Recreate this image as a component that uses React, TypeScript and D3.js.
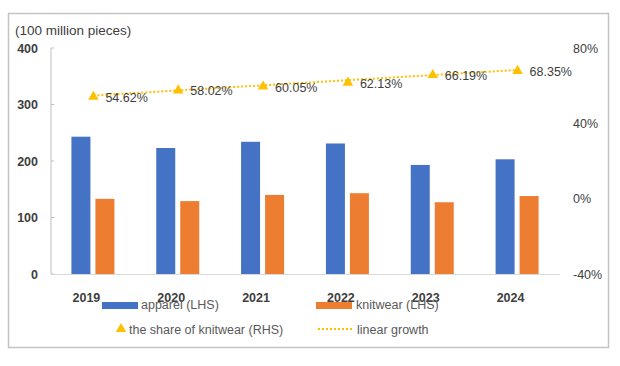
import React from 'react';
import * as d3 from 'd3';

const width = 620;
const height = 366;

// values
const years = ['2019', '2020', '2021', '2022', '2023', '2024'];
const apparel = [243, 223, 234, 231, 193, 203];
const knitwear = [133, 129, 140, 143, 127, 138];
const share = [54.62, 58.02, 60.05, 62.13, 66.19, 68.35];
const trend = [54.76, 68.37]; // linear growth at first and last year
const leftTicks = [0, 100, 200, 300, 400];
const rightTicks = [-40, 0, 40, 80];

const BLUE = '#4472C4';
const ORANGE = '#ED7D31';
const GOLD = '#FFC000';
const TEXT = '#404040';
const FONT = '"Liberation Sans", Arial, sans-serif';

const plot = { left: 51, right: 560, top: 48, bottom: 274 };

function App() {
    const x = d3.scaleBand().domain(years).range([plot.left, plot.right]);
    const yL = d3.scaleLinear().domain([0, 400]).range([plot.bottom, plot.top]);
    const yR = d3.scaleLinear().domain([-40, 80]).range([plot.bottom, plot.top]);
    const cx = (d: string) => (x(d) as number) + x.bandwidth() / 2;
    const barW = 19;

    const tri = d3.symbol().type(d3.symbolTriangle).size(48);
    const trendLine = d3.line<number>()
        .x((d, i) => cx(years[i === 0 ? 0 : years.length - 1]))
        .y(d => yR(d));

    return (
        <svg width={width} height={height} style={{ position: 'absolute', left: 0, top: 0, fontFamily: FONT }}>
            <rect x={0} y={0} width={width} height={height} fill="#fff" />
            <rect x={8.5} y={13.5} width={600} height={334} fill="none" stroke="#c4c4c4" strokeWidth={1.5} />

            <text x={15} y={35} fontSize={13.5} fill={TEXT}>(100 million pieces)</text>

            {/* left axis */}
            <line x1={plot.left} x2={plot.left} y1={plot.top} y2={plot.bottom} stroke="#bfbfbf" />
            {leftTicks.map(t => (
                <g key={t}>
                    <line x1={plot.left} x2={plot.left + 3} y1={yL(t)} y2={yL(t)} stroke="#bfbfbf" />
                    <text x={38} y={yL(t) + 4.5} textAnchor="end" fontSize={12.5} fontWeight="bold" fill={TEXT}>{t}</text>
                </g>
            ))}
            {rightTicks.map(t => (
                <text key={t} x={573} y={yR(t) + 4.5} fontSize={12.5} fill={TEXT}>{t}%</text>
            ))}

            {/* bars */}
            {years.map((yr, i) => (
                <g key={yr}>
                    <rect x={cx(yr) - 22} y={yL(apparel[i])} width={barW} height={plot.bottom - yL(apparel[i])} fill={BLUE} />
                    <rect x={cx(yr) + 2} y={yL(knitwear[i])} width={barW} height={plot.bottom - yL(knitwear[i])} fill={ORANGE} />
                </g>
            ))}
            <line x1={plot.left} x2={plot.right} y1={plot.bottom + 0.5} y2={plot.bottom + 0.5} stroke="#d9d9d9" />

            {/* trend + share */}
            <path d={trendLine(trend) || ''} fill="none" stroke={GOLD} strokeWidth={2} strokeDasharray="2,2" />
            {years.map((yr, i) => (
                <g key={yr}>
                    <path d={tri() || ''} transform={`translate(${cx(yr)},${yR(share[i]) + 1})`} fill={GOLD} />
                    <text x={cx(yr) + 12} y={yR(share[i]) + 6} fontSize={12.5} fill={TEXT}>{share[i].toFixed(2)}%</text>
                </g>
            ))}

            {/* categories */}
            {years.map(yr => (
                <text key={yr} x={cx(yr) - 7} y={302} textAnchor="middle" fontSize={12.5} fontWeight="bold" fill={TEXT}>{yr}</text>
            ))}

            {/* legend */}
            <rect x={102} y={302} width={36} height={7} fill={BLUE} />
            <text x={141} y={309} fontSize={12.5} fill="#595959">apparel (LHS)</text>
            <rect x={316} y={302} width={36} height={7} fill={ORANGE} />
            <text x={356} y={309} fontSize={12.5} fill="#595959">knitwear (LHS)</text>
            <path d={tri() || ''} transform="translate(121,329)" fill={GOLD} />
            <text x={129} y={334} fontSize={12.5} fill="#595959">the share of knitwear (RHS)</text>
            <line x1={318} x2={352} y1={329} y2={329} stroke={GOLD} strokeWidth={2} strokeDasharray="2,2" />
            <text x={357} y={334} fontSize={12.5} fill="#595959">linear growth</text>
        </svg>
    );
}

export default App;
